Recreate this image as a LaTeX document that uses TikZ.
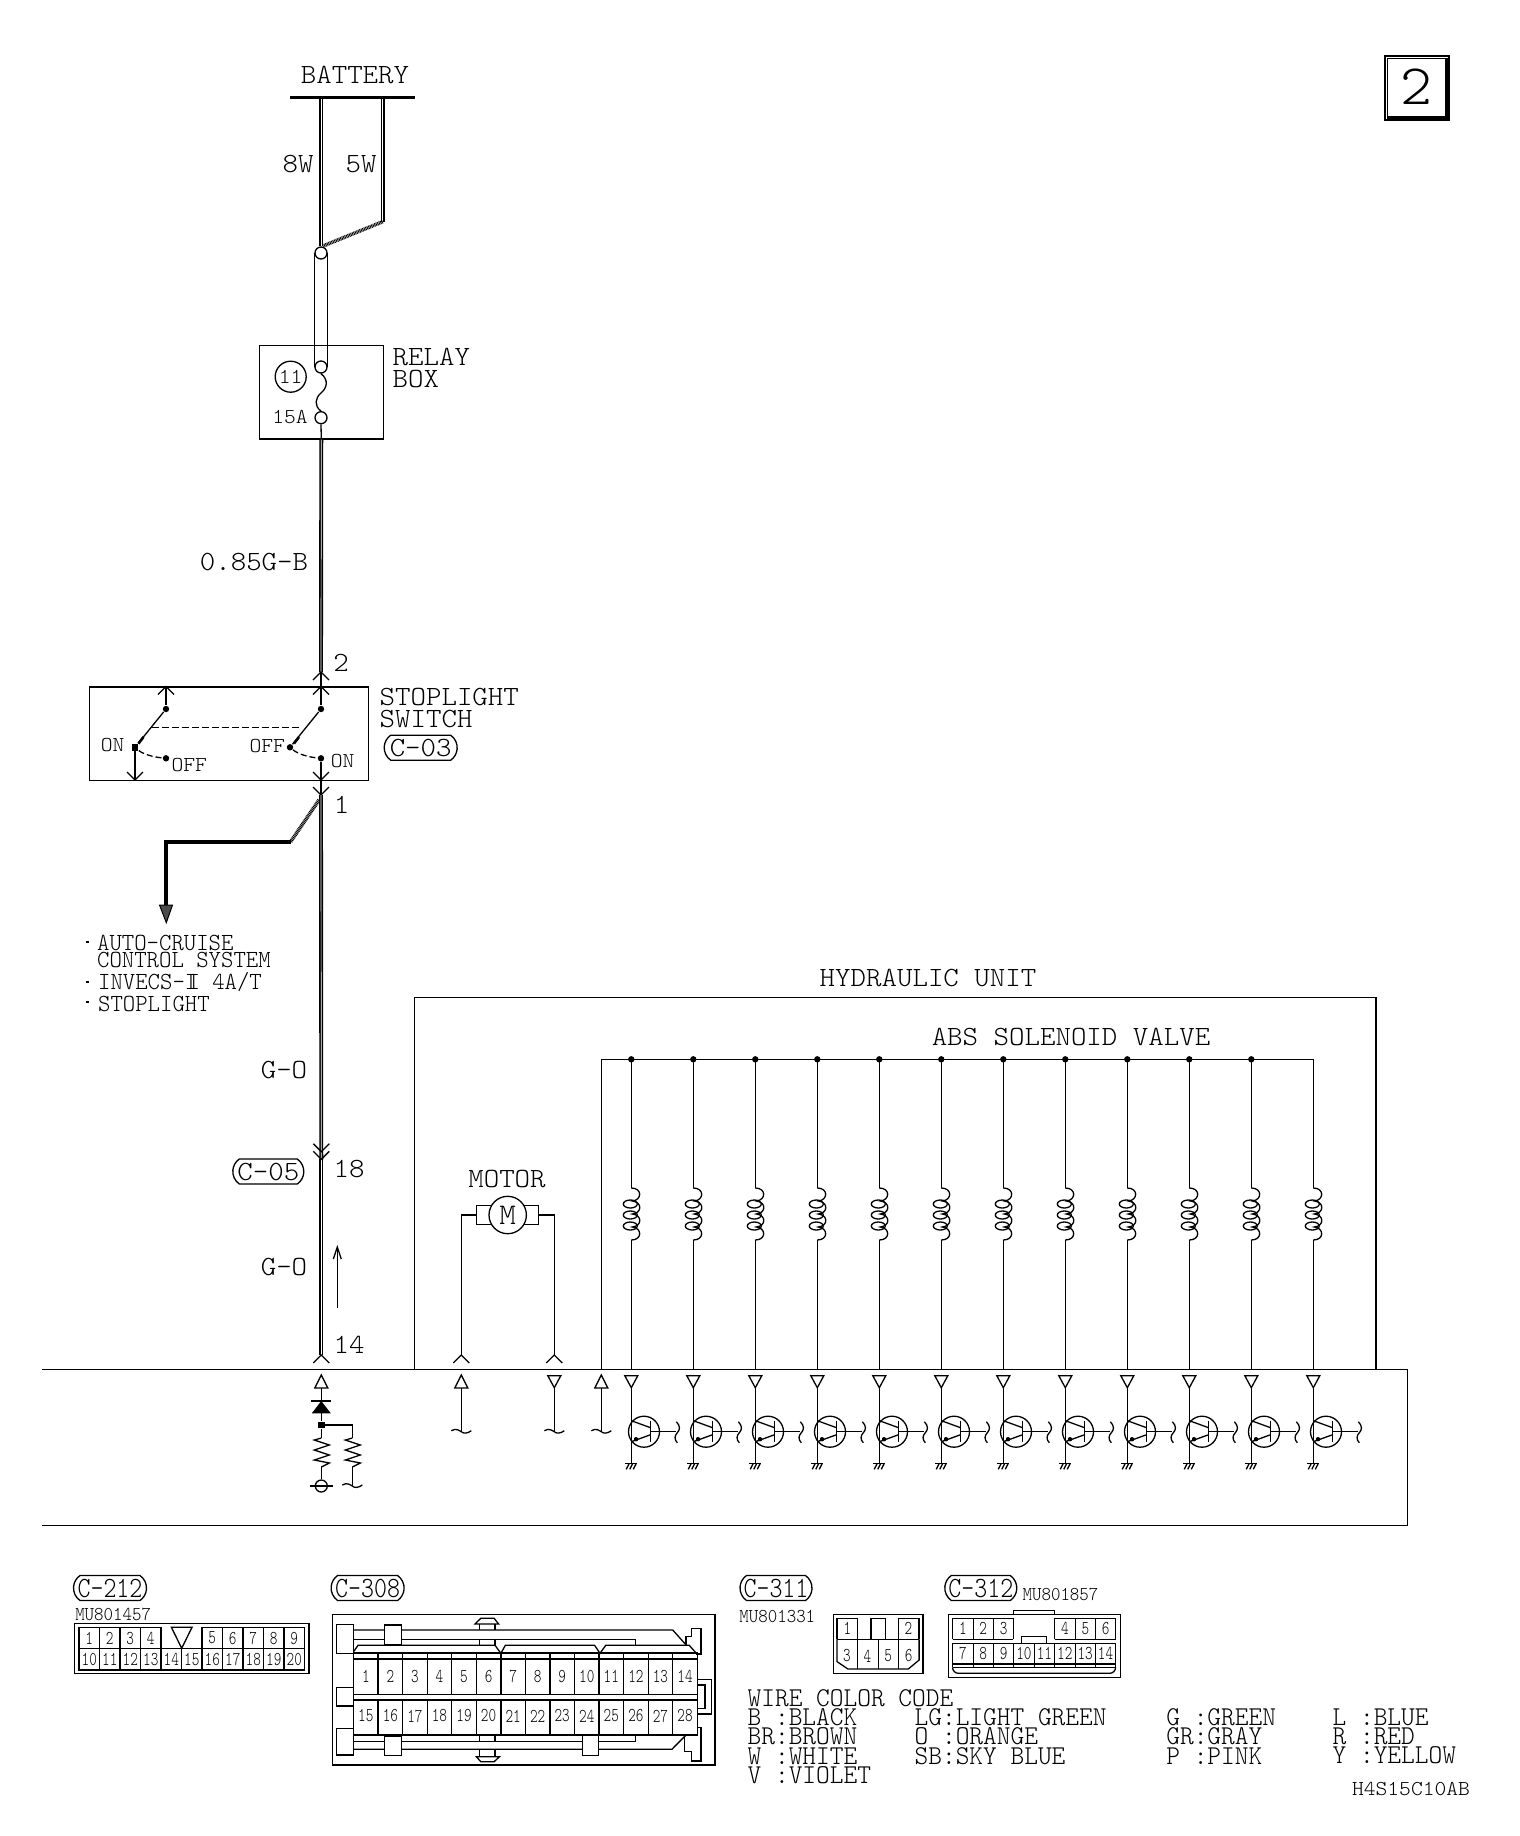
\documentclass[tikz,border=0pt]{standalone}
\usepackage{fontspec}
\newfontfamily\bigfont{Latin Modern Mono Light}[FakeStretch=1.06]
\newfontfamily\midfont{Latin Modern Mono Light}[FakeStretch=0.96]
\newfontfamily\tagfont{Latin Modern Mono Light}[FakeStretch=0.84]
\newfontfamily\mufont{Latin Modern Mono Light}[FakeStretch=0.92]
\newfontfamily\pinfont{Latin Modern Mono Light}[FakeStretch=0.74]
\usetikzlibrary{shapes.misc,arrows.meta}
\tikzset{
  bigtext/.style={font=\bigfont\fontsize{13.9}{10.8}\selectfont,inner sep=0,align=left},
  smalltext/.style={font=\bigfont\fontsize{10.6}{10.6}\selectfont,inner sep=0},
  midtext/.style={font=\midfont\fontsize{12.3}{8.6}\selectfont,inner sep=0,align=left},
  wiretext/.style={font=\midfont\fontsize{13.6}{9.65}\selectfont,inner sep=0,align=left},
  pintext/.style={font=\pinfont\fontsize{9.8}{9.8}\selectfont,inner sep=0},
  mutext/.style={font=\mufont\fontsize{9.8}{9.8}\selectfont,inner sep=0},
  tagbox/.style={draw,rounded rectangle,rounded rectangle arc length=110,inner sep=0,minimum width=36.5pt,minimum height=12.5pt},
  bigtag/.style={tagbox,font=\bigfont\fontsize{13.9}{13.9}\selectfont},
  contag/.style={tagbox,font=\tagfont\fontsize{14.7}{14.7}\selectfont},
  dotnode/.style={circle,fill=black,inner sep=0,minimum size=3.2pt},
  ringnode/.style={circle,draw,fill=white,inner sep=0,minimum size=6pt},
  wirethick/.style={draw,double,line width=0.8pt,double distance=0.35pt},
  wiresolid/.style={draw,line width=1.9pt},
  hatchwire/.style={draw,line width=1.8pt,dash pattern=on 0.45pt off 0.35pt},
  chevup/.pic={\draw (-8,8)--(0,0)--(8,8);},
  chevdown/.pic={\draw (-8,-8)--(0,0)--(8,-8);},
  triup/.pic={\draw (0,0)--(-6.5,13)--(6.5,13)--cycle;},
  tridown/.pic={\draw (0,12)--(-6.5,0)--(6.5,0)--cycle;},
  tilde/.pic={\draw (-10,-1) .. controls (-5,-4) and (-2,-1) .. (0,0) .. controls (2,2) and (6,2) .. (10,-1);},
  zigzag/.pic={\draw (0,0)--(-7,2)--(8,7)--(-7,12)--(8,17)--(-7,22)--(8,25)--(0,29);},
  solenoid/.pic={
    \draw (0,0) .. controls (11,0) and (11,12) .. (1,13) .. controls (11,14) and (11,25) .. (1,26)
      .. controls (11,27) and (11,38) .. (1,39) .. controls (11,40) and (11,52) .. (0,52);
    \draw (-1,16) ellipse [x radius=7,y radius=4];
    \draw (-1,27) ellipse [x radius=7,y radius=4];
    \draw (-1,38) ellipse [x radius=7,y radius=4];
  },
  transistor/.pic={
    \draw (12.7,0) circle [radius=15.5];
    \draw (19.3,-11)--(19.3,10);
    \draw (0,-11)--(19.3,-4);
    \draw (0,10)--(19.3,3);
    \fill (4.7,7.5) circle [radius=2.2];
    \draw (19.3,0)--(45,0);
    \draw (45,-10) .. controls (49,-6) and (49,-2) .. (46,1) .. controls (43,4) and (43,8) .. (46,11);
  },
  earth/.pic={
    \draw (-6,0)--(6,0);
    \draw (-2,0)--(-5,6) (1.5,0)--(-1.5,6) (5,0)--(2,6);
  }
}
\begin{document}
\begin{tikzpicture}[x=0.5pt,y=-0.5pt,line width=0.65pt]
\useasboundingbox (0,0) rectangle (1520,1836);
%page number
\draw (1385,56) rectangle (1449,120);
\draw (1387.5,58.5) rectangle (1446,117);
\draw[line width=1.1pt] (1387,118) -- (1447,118) -- (1447,58);
\node[font=\bigfont\fontsize{28.6}{28.6}\selectfont,inner sep=0] (pagenum) at (1416.7,87) {2};
%battery
\node[bigtext] (battery) at (355,75) {BATTERY};
\coordinate (bat8) at (321,97);
\coordinate (bat5) at (382.7,97);
\coordinate (bend5) at (382.7,221.7);
\node[ringnode] (fusetop) at (321,253) {};
\node[ringnode] (fusein) at (321,367) {};
\node[ringnode] (fuseout) at (321,417.7) {};
\draw[wirethick] (bat8) -- (fusetop.north);
\draw[wirethick] (bat5) -- (bend5);
\draw[hatchwire] (bend5) -- (323,246);
\draw[line width=1.4pt] (290,97.3) -- (415,97.3);
\node[bigtext] (w8) at (298,164) {8W};
\node[bigtext] (w5) at (361,164) {5W};
\draw (fusetop.west) -- (fusein.west);
\draw (fusetop.east) -- (fusein.east);
\node[draw,minimum width=62pt,minimum height=46.8pt,inner sep=0] (relaybox) at (321.3,392.2) {};
\draw (fusein.south) .. controls (329,380) and (327,388) .. (321,393) .. controls (315,398) and (314,406) .. (fuseout.north);
\node[circle,draw,minimum size=15.5pt,inner sep=0,smalltext] (fusenum) at (290.7,376.7) {11};
\node[smalltext] (amp) at (290,416.7) {15A};
\node[bigtext,anchor=north west] (relaytxt) at (392,348) {RELAY\\BOX};
\draw (fuseout.south) -- (relaybox.south);
%stoplight switch
\coordinate (in2) at (321,672);
\draw[wirethick] (relaybox.south) -- (in2);
\node[bigtext] (wirea) at (254,561.7) {0.85G-B};
\node[bigtext] (pin2) at (341,662.7) {2};
\node[draw,minimum width=139.5pt,minimum height=46.6pt,inner sep=0] (switchbox) at (228.8,733.6) {};
\node[dotnode] (rtop) at (321,709) {};
\node[dotnode] (rpiv) at (290,747.3) {};
\node[dotnode] (ron) at (321,758.3) {};
\node[dotnode] (ltop) at (166,709) {};
\node[dotnode,rectangle,minimum size=3.2pt] (lpiv) at (135,747.3) {};
\node[dotnode] (loff) at (166,758.3) {};
\coordinate (out1) at (321,795);
\draw (in2) -- (rtop);
\draw (rtop) -- (rpiv);
\draw (ron) -- (out1);
\draw (166,687) -- (ltop);
\draw (ltop) -- (lpiv);
\draw (lpiv) -- (135,780);
\draw[line width=1.3pt] (294,743.5) -- (299,737);
\draw[line width=1.3pt] (138.5,743.5) -- (143.5,737);
\draw[dash pattern=on 3.5pt off 1.5pt] (151.7,727.3) -- (301.7,727.3);
\draw[dash pattern=on 3pt off 1.5pt] (rpiv) .. controls (298,754) and (308,757) .. (ron);
\draw[dash pattern=on 3pt off 1.5pt] (lpiv) .. controls (143,754) and (153,757) .. (loff);
\pic at (in2) {chevup};
\pic at (321,686.5) {chevup};
\pic at (166,686.5) {chevup};
\pic at (321,780) {chevdown};
\pic at (135,780) {chevdown};
\pic at (out1) {chevdown};
\node[smalltext] (lon) at (112.7,745) {ON};
\node[smalltext] (roff) at (267.3,746) {OFF};
\node[smalltext] (loffl) at (189.3,765) {OFF};
\node[smalltext] (ronl) at (342.7,761) {ON};
\node[bigtext,anchor=north west] (switchtxt) at (379,688) {STOPLIGHT\\SWITCH};
\node[bigtag] (c03) at (420.7,747.7) {C-03};
\node[bigtext] (pin1) at (341.7,805) {1};
%branch
\coordinate (knee) at (290.7,841.7);
\coordinate (corner) at (166,841.7);
\coordinate (branchend) at (166,905);
\draw[hatchwire] (319,800) -- (knee);
\draw[wiresolid] (knee) -- (corner) -- (branchend);
\draw[fill=black!70,line width=0.5pt] (159.5,905) -- (172.5,905) -- (166.3,922.7) -- cycle;
\fill (86,940.5) rectangle +(2.6,2.6);
\fill (86,980.5) rectangle +(2.6,2.6);
\fill (86,1000.5) rectangle +(2.6,2.6);
\node[midtext,anchor=north west] (autotxt) at (96.5,934.5) {AUTO-CRUISE\\CONTROL SYSTEM};
\node[midtext,anchor=north west] (invtxt) at (97.5,971.5) {INVECS-I\kern-.4em I 4A/T};
\node[midtext,anchor=north west] (stoptxt) at (97.5,995.5) {STOPLIGHT};
%main wire down
\coordinate (c05a) at (321.3,1151.7);
\coordinate (c05b) at (321.3,1159.3);
\coordinate (in14) at (321.3,1355);
\draw[wirethick] (out1) -- (c05b);
\draw[wirethick] (c05b) -- (in14);
\pic at (c05a) {chevdown};
\pic at (c05b) {chevdown};
\pic at (in14) {chevup};
\node[bigtext] (wireb) at (284,1070) {G-O};
\node[bigtext] (wirec) at (284,1267) {G-O};
\node[bigtag,minimum width=35.5pt] (c05) at (268.3,1171.5) {C-05};
\node[bigtext] (pin18) at (349,1169) {18};
\node[bigtext] (pin14) at (349,1345) {14};
\draw[-{Straight Barb[length=6pt,width=4pt]}] (337.3,1307.7) -- (337.3,1245);
%hydraulic unit
\draw (414.3,1369.3) -- (414.3,997.3) -- (1376,997.3) -- (1376,1369.3);
\node[bigtext] (hutxt) at (928,977.8) {HYDRAULIC UNIT};
\node[bigtext] (abstxt) at (1071,1037) {ABS SOLENOID VALVE};
%motor
\node[bigtext] (motortxt) at (507,1178.5) {MOTOR};
\node[draw,minimum width=31.2pt,minimum height=9.3pt,inner sep=0] (brush) at (507.5,1215) {};
\node[circle,draw,fill=white,minimum size=18.7pt,inner sep=0,font=\bigfont\fontsize{15}{15}\selectfont] (motor) at (507.7,1215) {M};
\coordinate (mota) at (461.3,1355);
\coordinate (motb) at (554.3,1355);
\draw (brush.west) -| (mota);
\draw (brush.east) -| (motb);
\pic at (mota) {chevup};
\pic at (motb) {chevup};
%control unit
\draw (42,1369.3) -- (1407.3,1369.3) -- (1407.3,1525.3) -- (42,1525.3);
\pic at (321.3,1375) {triup};
\pic at (461.3,1375) {triup};
\pic at (554.3,1375.7) {tridown};
\pic at (601.3,1375) {triup};
\coordinate (feedtop) at (601.3,1059.3);
\draw (feedtop) -- (601.3,1369.3);
\draw (461.3,1388) -- (461.3,1431.7);
\draw (554.3,1388) -- (554.3,1431.7);
\draw (601.3,1388) -- (601.3,1431.7);
\pic at (461.3,1431.7) {tilde};
\pic at (554.3,1431.7) {tilde};
\pic at (601.3,1431.7) {tilde};
%diode and resistors
\draw (311,1401) -- (331,1401);
\fill (321.3,1401) -- (311.8,1413.3) -- (330.8,1413.3) -- cycle;
\node[dotnode,rectangle,minimum size=3.4pt] (djoint) at (321.3,1425) {};
\node[ringnode,fill=none] (earthring) at (321.3,1486) {};
\draw (321.3,1388) -- (djoint);
\draw (djoint) -- (321.3,1438);
\draw (321.3,1467) -- (earthring);
\draw (310,1486) -- (333,1486);
\draw (djoint) -| (352.3,1438);
\draw (352.3,1467) -- (352.3,1486);
\pic at (321.3,1438) {zigzag};
\pic at (352.3,1438) {zigzag};
\pic at (352.3,1486) {tilde};
%solenoid valves
\foreach \k in {0,...,11}{
  \coordinate (rail\k) at ({631.3+62*\k},1059.3);
  \coordinate (coil\k) at ({631.3+62*\k},1188);
  \coordinate (cend\k) at ({631.3+62*\k},1240);
  \coordinate (pin\k) at ({631.3+62*\k},1369.3);
  \coordinate (tran\k) at ({631.3+62*\k},1431.7);
  \coordinate (gnd\k) at ({631.3+62*\k},1463.3);
  \draw (rail\k) -- (coil\k);
  \draw (cend\k) -- (pin\k);
  \pic at (coil\k) {solenoid};
  \pic at ({631.3+62*\k},1375.7) {tridown};
  \draw ({631.3+62*\k},1388) -- (gnd\k);
  \pic at (tran\k) {transistor};
  \pic at (gnd\k) {earth};
}
\draw (feedtop) -- (rail11);
\foreach \k in {0,...,10}{
  \node[dotnode] (rdot\k) at (rail\k) {};
}
%connector C-212
\node[contag] (c212) at (110,1588) {C-212};
\node[mutext,anchor=west] (mu212) at (74.6,1614) {MU801457};
\draw (74.5,1623.3) rectangle (309,1673.3);
\draw (79,1670) rectangle (304.5,1648.3);
\draw (79,1648.3) -- (79,1627.3) -- (161,1627.3) -- (161,1648.3);
\draw (171.4,1627.3) -- (181.7,1648.3) -- (192,1627.3) -- cycle;
\draw (202,1648.3) -- (202,1627.3) -- (304.5,1627.3) -- (304.5,1648.3);
\foreach \i in {1,2,3,...,10}{
  \draw ({79+20.5*\i},1648.3) -- ({79+20.5*\i},1670);
}
\foreach \i in {1,2,3,7,8,9,10}{
  \draw ({79+20.5*\i},1627.3) -- ({79+20.5*\i},1648.3);
}
\foreach \n [count=\i from 0] in {1,2,3,4}{
  \node[pintext] (a\n) at ({79+20.5*(\i+.5)},1638) {\n};
}
\foreach \n [count=\i from 6] in {5,6,7,8,9}{
  \node[pintext] (a\n) at ({79+20.5*(\i+.5)},1638) {\n};
}
\foreach \n [count=\i from 0] in {10,11,...,20}{
  \node[pintext] (a\n) at ({79+20.5*(\i+.5)},1659) {\n};
}
%connector C-308
\node[contag] (c308) at (367.6,1588) {C-308};
\begin{scope}[shift={(50,1560)},xscale=0.4464,yscale=0.3333]
\draw (633,163) rectangle (1490,615);
\draw (642,193) rectangle (680,280);
\draw (642,382) rectangle (680,438);
\draw (642,505) rectangle (680,585);
\draw (680,210) -- (1395,210) -- (1425,255);
\draw (680,238) -- (1312,238) -- (1312,255);
\draw (680,275) -- (690,256) -- (997,256) -- (1010,280) -- (1020,256) -- (1220,256) -- (1232,280) -- (1245,256) -- (1432,256) -- (1448,280);
\draw (1425,255) -- (1425,230) -- (1437,230) -- (1437,205) -- (1458,205) -- (1458,282) -- (1448,282);
\draw (680,280) -- (1450,280);
\draw (680,297) -- (1450,297);
\draw (680,278) rectangle (1450,525);
\draw (680,404) -- (1450,404);
\draw (680,420) -- (1450,420);
\foreach \i in {1,...,13}{
  \draw ({680+55*\i},278) -- ({680+55*\i},404);
  \draw ({680+55*\i},420) -- ({680+55*\i},525);
}
\draw[fill=white] (750,195) rectangle (787,255);
\draw (962,238) -- (962,256) (997,238) -- (997,256) (962,193) -- (962,210) (997,193) -- (997,210);
\draw (952,192) -- (965,175) -- (995,175) -- (1005,192) -- cycle;
\draw (1450,358) -- (1482,358) -- (1482,462) -- (1450,462);
\draw (1450,375) -- (1467,375) -- (1467,445) -- (1450,445);
\draw (680,545) -- (1312,545) -- (1312,525);
\draw (680,568) -- (1393,568) -- (1425,525);
\draw (1450,503) -- (1458,503) -- (1458,603) -- (1437,603) -- (1437,575) -- (1422,575) -- (1422,532);
\draw[fill=white] (750,530) rectangle (787,587);
\draw[fill=white] (1193,525) rectangle (1228,587);
\draw (962,525) -- (962,545) (997,525) -- (997,545) (962,568) -- (962,590) (997,568) -- (997,590);
\draw (955,590) -- (1007,590) -- (995,605) -- (965,605) -- cycle;
\foreach \n [count=\i from 0] in {1,2,...,14}{
  \node[pintext] (b\n) at ({680+55*(\i+.5)},350) {\n};
}
\foreach \n [count=\i from 0] in {15,16,...,28}{
  \node[pintext] (b\n) at ({680+55*(\i+.5)},468) {\n};
}
\end{scope}
%connectors C-311 and C-312
\node[contag,minimum width=36pt] (c311) at (776,1588) {C-311};
\node[contag,minimum width=36pt] (c312) at (980.8,1588) {C-312};
\node[mutext,anchor=west] (mu311) at (738.8,1616) {MU801331};
\node[mutext,anchor=west] (mu312) at (1022,1594) {MU801857};
\begin{scope}[shift={(730,1560)},xscale=0.4912,yscale=0.3333]
\draw (210,163) rectangle (393,340);
\draw (218,238) -- (218,176) -- (260,176) -- (260,238);
\draw (287,238) -- (287,176) -- (316,176) -- (316,238);
\draw (343,238) -- (343,176) -- (385,176) -- (385,238);
\draw (218,238) -- (385,238);
\draw (218,238) -- (218,305) -- (240,327) -- (363,327) -- (385,300) -- (385,238);
\foreach \x in {260,302,343}{
  \draw (\x,238) -- (\x,327);
}
\node[pintext] (d1) at (239,205) {1};
\node[pintext] (d2) at (363,205) {2};
\node[pintext] (d3) at (238,288) {3};
\node[pintext] (d4) at (280,288) {4};
\node[pintext] (d5) at (322,288) {5};
\node[pintext] (d6) at (364,288) {6};
\draw (445,163) rectangle (795,353);
\draw (577,163) -- (577,151) -- (661,151) -- (661,163);
\draw (453,238) -- (453,176) -- (577,176) -- (577,238);
\draw (495,176) -- (495,238) (537,176) -- (537,238);
\draw (661,238) -- (661,176) -- (785,176) -- (785,238);
\draw (704,176) -- (704,238) (744,176) -- (744,238);
\draw (453,238) -- (577,238) (661,238) -- (785,238);
\draw (453,250) -- (785,250);
\draw (594,250) -- (594,230) -- (645,230) -- (645,250);
\foreach \x in {453,495,537,577,620,661,704,744,785}{
  \draw (\x,250) -- (\x,322);
}
\draw (453,312) -- (785,312);
\draw (453,322) -- (785,322);
\draw[rounded corners=3pt] (453,322) -- (453,340) -- (785,340) -- (785,322);
\foreach \n [count=\i from 0] in {1,2,3}{
  \node[pintext] (e\n) at ({474+41.5*\i},205) {\n};
}
\foreach \n [count=\i from 0] in {4,5,6}{
  \node[pintext] (e\n) at ({682+41.5*\i},205) {\n};
}
\foreach \n [count=\i from 0] in {7,8,...,14}{
  \node[pintext] (e\n) at ({474+41.5*\i},280) {\n};
}
\end{scope}
%wire colours
\node[wiretext,anchor=north west] (codetitle) at (747,1689) {WIRE COLOR CODE};
\node[wiretext,anchor=north west] (codea) at (747,1708) {B :BLACK\\BR:BROWN\\W :WHITE\\V :VIOLET};
\node[wiretext,anchor=north west] (codeb) at (914,1708) {LG:LIGHT GREEN\\O :ORANGE\\SB:SKY BLUE};
\node[wiretext,anchor=north west] (codec) at (1165.7,1708) {G :GREEN\\GR:GRAY\\P :PINK};
\node[wiretext,anchor=north west] (coded) at (1332,1708) {L :BLUE\\R :RED\\Y :YELLOW};
\node[font=\bigfont\fontsize{10.6}{10.6}\selectfont,inner sep=0] (drawno) at (1411,1789) {H4S15C10AB};
\end{tikzpicture}
\end{document}
